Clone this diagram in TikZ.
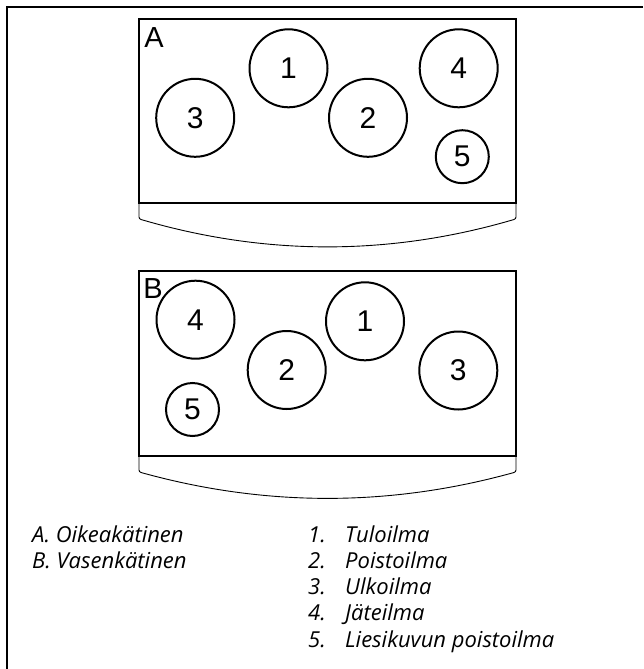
\documentclass[tikz,border=0pt]{standalone}
\usepackage{fontspec}
\setmainfont{Liberation Sans}
\newfontfamily\legendfont{Open Sans}
\begin{document}
\begin{tikzpicture}[x=1pt,y=-1pt,
  port/.style={circle,draw,line width=2pt,inner sep=0pt,font=\fontsize{30}{30}\selectfont},
  big/.style={port,minimum size=78pt},
  small/.style={port,minimum size=53pt},
  boxline/.style={line width=1.8pt},
  lipline/.style={line width=0.9pt},
  letter/.style={font=\fontsize{29}{29}\selectfont,inner sep=0pt},
  legend/.style={font=\legendfont\itshape\fontsize{22}{22}\selectfont,anchor=base west,inner sep=0pt}]
\useasboundingbox (0,0) rectangle (643,669);
% outer frame
\draw[line width=2.5pt] (643,7) -- (7,7) -- (7,669);
% box A
\draw[boxline] (139,19) rectangle (516,203);
\draw[lipline] (139,203) -- (139,217) .. controls (139,218.5) and (140,219) .. (141,219.5)
  .. controls (265,256) and (390,256) .. (514,219.5) .. controls (515,219) and (516,218.5) .. (516,217) -- (516,203);
\node[letter] (la) at (154,38) {A};
\node[big] (a1) at (288.5,68.3) {1};
\node[big] (a2) at (368,117.8) {2};
\node[big] (a3) at (195.2,117.8) {3};
\node[big] (a4) at (458.7,68.3) {4};
\node[small] (a5) at (462.3,156.7) {5};
% box B
\draw[boxline] (139,271) rectangle (516,456);
\draw[lipline] (139,456) -- (139,470) .. controls (139,471.5) and (140,472) .. (141,472.5)
  .. controls (265,507) and (390,507) .. (514,472.5) .. controls (515,472) and (516,471.5) .. (516,470) -- (516,456);
\node[letter] (lb) at (153,289) {B};
\node[big] (b1) at (365,321.3) {1};
\node[big] (b2) at (286.7,370) {2};
\node[big] (b3) at (458.3,370.5) {3};
\node[big] (b4) at (195.5,319.7) {4};
\node[small] (b5) at (192.5,409.5) {5};
% legend
\node[legend] (ta) at (32,542) {A. Oikeakätinen};
\node[legend] (tb) at (32,568) {B. Vasenkätinen};
\node[legend] (n1) at (308,542) {1.};
\node[legend] (n2) at (308,568.3) {2.};
\node[legend] (n3) at (308,594.6) {3.};
\node[legend] (n4) at (308,620.8) {4.};
\node[legend] (n5) at (308,647) {5.};
\node[legend] (t1) at (345,542) {Tuloilma};
\node[legend] (t2) at (345,568.3) {Poistoilma};
\node[legend] (t3) at (345,594.6) {Ulkoilma};
\node[legend] (t4) at (345,620.8) {Jäteilma};
\node[legend] (t5) at (345,647) {Liesikuvun poistoilma};
\end{tikzpicture}
\end{document}
